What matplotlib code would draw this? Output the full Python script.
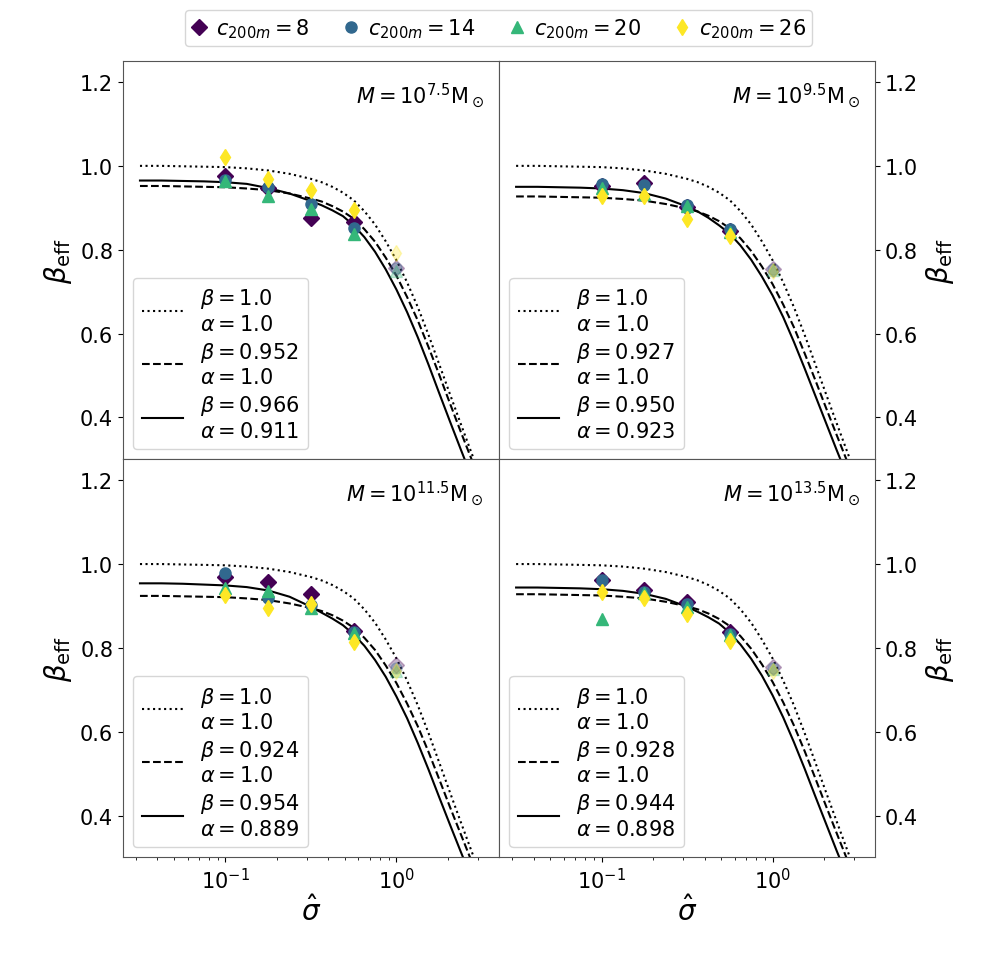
import numpy as np
import matplotlib
matplotlib.use("Agg")
import matplotlib.pyplot as plt

plt.rcParams['font.size'] = 15

# model curves (x as log10 sigma_hat)
log_sig = [-1.5, -1.375, -1.25, -1.125, -1.0, -0.875, -0.75, -0.625, -0.5,
           -0.4375, -0.375, -0.3125, -0.25, -0.1875, -0.125, -0.0625, 0.0,
           0.0625, 0.125, 0.1875, 0.25, 0.3125, 0.375, 0.4375, 0.5]

dotted_curve = [1.000, 1.000, 0.999, 0.998, 0.997, 0.994, 0.989, 0.981, 0.969,
                0.961, 0.950, 0.936, 0.918, 0.892, 0.860, 0.820, 0.775,
                0.722, 0.663, 0.597, 0.527, 0.456, 0.386, 0.317, 0.249]

dashed_curves = [
    [0.952, 0.952, 0.951, 0.950, 0.949, 0.946, 0.942, 0.934, 0.922,
     0.915, 0.904, 0.891, 0.874, 0.849, 0.819, 0.781, 0.738,
     0.687, 0.631, 0.568, 0.502, 0.434, 0.367, 0.302, 0.237],
    [0.927, 0.927, 0.926, 0.925, 0.924, 0.921, 0.917, 0.909, 0.898,
     0.891, 0.881, 0.868, 0.851, 0.827, 0.797, 0.760, 0.718,
     0.669, 0.615, 0.553, 0.489, 0.423, 0.358, 0.294, 0.231],
    [0.924, 0.924, 0.923, 0.922, 0.921, 0.918, 0.914, 0.906, 0.895,
     0.888, 0.878, 0.865, 0.848, 0.824, 0.795, 0.758, 0.716,
     0.667, 0.613, 0.552, 0.487, 0.421, 0.357, 0.293, 0.230],
    [0.928, 0.928, 0.927, 0.926, 0.925, 0.922, 0.918, 0.910, 0.899,
     0.892, 0.882, 0.869, 0.852, 0.828, 0.798, 0.761, 0.719,
     0.670, 0.615, 0.554, 0.489, 0.423, 0.358, 0.294, 0.231],
]
solid_curves = [
    [0.965, 0.965, 0.964, 0.963, 0.961, 0.957, 0.947, 0.934, 0.916,
     0.906, 0.894, 0.880, 0.858, 0.830, 0.795, 0.753, 0.705,
     0.651, 0.591, 0.526, 0.458, 0.391, 0.325, 0.260, 0.195],
    [0.950, 0.950, 0.949, 0.948, 0.946, 0.942, 0.935, 0.922, 0.903,
     0.891, 0.876, 0.858, 0.838, 0.810, 0.776, 0.736, 0.691,
     0.639, 0.580, 0.517, 0.452, 0.387, 0.322, 0.259, 0.196],
    [0.954, 0.954, 0.953, 0.951, 0.949, 0.945, 0.937, 0.922, 0.898,
     0.884, 0.870, 0.854, 0.832, 0.805, 0.771, 0.731, 0.684,
     0.632, 0.573, 0.510, 0.444, 0.379, 0.315, 0.252, 0.190],
    [0.944, 0.944, 0.943, 0.942, 0.940, 0.936, 0.929, 0.917, 0.898,
     0.886, 0.873, 0.858, 0.836, 0.808, 0.774, 0.734, 0.687,
     0.634, 0.575, 0.512, 0.446, 0.381, 0.316, 0.253, 0.190],
]

dashed_beta = ['0.952', '0.927', '0.924', '0.928']
solid_beta = ['0.966', '0.950', '0.954', '0.944']
solid_alpha = ['0.911', '0.923', '0.889', '0.898']
mass_labels = ['7.5', '9.5', '11.5', '13.5']

# simulation points
sig_pts = [0.1, 0.178, 0.316, 0.562, 1.0]
c_values = [8, 14, 20, 26]
points = [
    {8: [0.975, 0.948, 0.876, 0.865, 0.756],
     14: [0.966, 0.950, 0.909, 0.851, 0.756],
     20: [0.963, 0.927, 0.897, 0.837, 0.750],
     26: [1.020, 0.968, 0.943, 0.895, 0.792]},
    {8: [0.953, 0.958, 0.902, 0.845, 0.755],
     14: [0.956, 0.955, 0.906, 0.849, 0.755],
     20: [0.948, 0.932, 0.904, 0.842, 0.752],
     26: [0.927, 0.927, 0.873, 0.832, 0.750]},
    {8: [0.970, 0.956, 0.928, 0.840, 0.759],
     14: [0.979, 0.920, 0.902, 0.838, 0.752],
     20: [0.944, 0.936, 0.894, 0.835, 0.745],
     26: [0.925, 0.896, 0.904, 0.814, 0.745]},
    {8: [0.962, 0.938, 0.909, 0.838, 0.755],
     14: [0.962, 0.933, 0.905, 0.832, 0.752],
     20: [0.870, 0.930, 0.898, 0.830, 0.750],
     26: [0.933, 0.920, 0.880, 0.816, 0.745]},
]

markers = {8: 'D', 14: 'o', 20: '^', 26: 'd'}
cmap = plt.get_cmap('viridis')
colors = {c: cmap(i / 3) for i, c in enumerate(c_values)}

fig, axes = plt.subplots(2, 2, figsize=(9.99, 9.70), dpi=100, sharex=True, sharey=True)
fig.subplots_adjust(left=0.123, right=0.876, top=0.936, bottom=0.115, hspace=0, wspace=0)

x_curve = 10 ** np.array(log_sig)

for k, ax in enumerate(axes.flat):
    l1, = ax.plot(x_curve, dotted_curve, ':', color='k', lw=1.5)
    l2, = ax.plot(x_curve, dashed_curves[k], '--', color='k', lw=1.5)
    l3, = ax.plot(x_curve, solid_curves[k], '-', color='k', lw=1.5)

    for c in c_values:
        vals = points[k][c]
        ax.plot(sig_pts[:-1], vals[:-1], ls='none', marker=markers[c], color=colors[c], ms=8)
        ax.plot(sig_pts[-1:], vals[-1:], ls='none', marker=markers[c], color=colors[c], ms=8, alpha=0.3)

    ax.legend([l1, l2, l3],
              ['$\\beta=1.0$\n$\\alpha=1.0$',
               '$\\beta=%s$\n$\\alpha=1.0$' % dashed_beta[k],
               '$\\beta=%s$\n$\\alpha=%s$' % (solid_beta[k], solid_alpha[k])],
              loc='lower left', fontsize=15, handlelength=2.0, labelspacing=0.3)

    ax.text(0.96, 0.915, '$M=10^{%s}\\mathrm{M}_\\odot$' % mass_labels[k],
            transform=ax.transAxes, ha='right', va='center', fontsize=15)

    ax.set_xscale('log')
    ax.set_xlim(10 ** -1.6, 10 ** 0.6)
    ax.set_ylim(0.3, 1.25)
    ax.set_yticks([0.4, 0.6, 0.8, 1.0, 1.2])
    ax.set_ylabel('$\\beta_{\\rm eff}$', fontsize=20)
    if k >= 2:
        ax.set_xlabel('$\\hat{\\sigma}$', fontsize=20, labelpad=2)
    if k % 2 == 1:
        ax.yaxis.tick_right()
        ax.yaxis.set_label_position('right')
        ax.tick_params(axis='y', labelright=True)

for ax in axes.flat:
    for sp in ax.spines.values():
        sp.set_color('#555555')

handles = [plt.Line2D([], [], ls='none', marker=markers[c], color=colors[c], ms=8) for c in c_values]
labels = ['$c_{200m}=%d$' % c for c in c_values]
fig.legend(handles, labels, loc='center', ncol=4, bbox_to_anchor=(0.499, 0.970),
           fontsize=15, handlelength=0.8, handletextpad=0.4, columnspacing=1.6, borderpad=0.3)

fig.savefig('out.png', dpi=100)
